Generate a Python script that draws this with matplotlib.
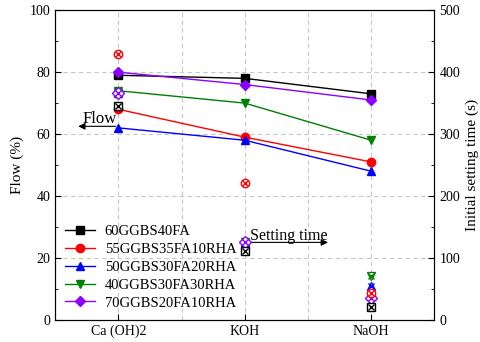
import matplotlib.pyplot as plt
from matplotlib.ticker import MultipleLocator

plt.rcParams['font.family'] = ['Liberation Serif', 'DejaVu Serif']
plt.rcParams['font.size'] = 10

# data
activators = ['Ca (OH)2', 'KOH', 'NaOH']
mixes = ['60GGBS40FA', '55GGBS35FA10RHA', '50GGBS30FA20RHA',
         '40GGBS30FA30RHA', '70GGBS20FA10RHA']
flow_60 = [79, 78, 73]
flow_55 = [68, 59, 51]
flow_50 = [62, 58, 48]
flow_40 = [74, 70, 58]
flow_70 = [80, 76, 71]
set_60 = [345, 111, 21]
set_55 = [430, 221, 43]
set_50 = [366, 126, 54]
set_40 = [366, 126, 70]
set_70 = [366, 126, 35]

colors = ['black', 'red', 'blue', 'green', '#8B00FF']
markers = ['s', 'o', '^', 'v', 'D']
flows = [flow_60, flow_55, flow_50, flow_40, flow_70]

x = list(range(len(activators)))

fig, ax = plt.subplots(figsize=(4.8, 3.42), dpi=100)
fig.subplots_adjust(left=0.115, right=0.905, top=0.97, bottom=0.065)
ax2 = ax.twinx()

for name, fl, c, m in zip(mixes, flows, colors, markers):
    ms = 6 if m != 'D' else 5.5
    ax.plot(x, fl, color=c, marker=m, markersize=ms, linewidth=1, label=name)

# setting time: hollow markers with x inside
for st, c, m in zip([set_50, set_40, set_70, set_55, set_60],
                    ['blue', 'green', '#8B00FF', 'red', 'black'],
                    ['^', 'v', 'D', 'o', 's']):
    ax2.plot(x, st, linestyle='none', marker=m, markersize=6,
             markerfacecolor='white', markeredgecolor=c, markeredgewidth=1)
    ax2.plot(x, st, linestyle='none', marker='x', markersize=4,
             color=c, markeredgewidth=1)

ax.set_xlim(-0.5, 2.5)
ax.set_ylim(0, 100)
ax2.set_ylim(0, 500)
ax.set_xticks(x)
ax.set_xticklabels(activators)
ax.yaxis.set_major_locator(MultipleLocator(20))
ax.yaxis.set_minor_locator(MultipleLocator(10))
ax2.yaxis.set_major_locator(MultipleLocator(100))
ax2.yaxis.set_minor_locator(MultipleLocator(50))

for a in (ax, ax2):
    a.tick_params(which='both', direction='in', labelsize=10)
    a.tick_params(which='major', length=4)
    a.tick_params(which='minor', length=2)

for xv in [0, 0.5, 1, 1.5, 2]:
    ax.axvline(xv, color='#c8c8c8', linestyle=(0, (4, 3)), linewidth=0.8, zorder=0)
for yv in [20, 40, 60, 80]:
    ax.axhline(yv, color='#c8c8c8', linestyle=(0, (4, 3)), linewidth=0.8, zorder=0)

ax.set_ylabel('Flow (%)', fontsize=11)
ax2.set_ylabel('Initial setting time (s)', fontsize=11)

ax.annotate('', xy=(-0.34, 62.5), xytext=(0, 62.5),
            arrowprops=dict(arrowstyle='-|>', color='black', lw=0.8))
ax.text(-0.28, 63.5, 'Flow', fontsize=12)
ax.annotate('', xy=(1.68, 25), xytext=(1, 25),
            arrowprops=dict(arrowstyle='-|>', color='black', lw=0.8))
ax.text(1.04, 25.8, 'Setting time', fontsize=11.5)

ax.legend(loc='lower left', bbox_to_anchor=(0.0, 0.0), frameon=False,
          handlelength=2.0, labelspacing=0.32, borderaxespad=0.3,
          handletextpad=0.7, fontsize=10.5)

plt.savefig('out.png', dpi=100)
